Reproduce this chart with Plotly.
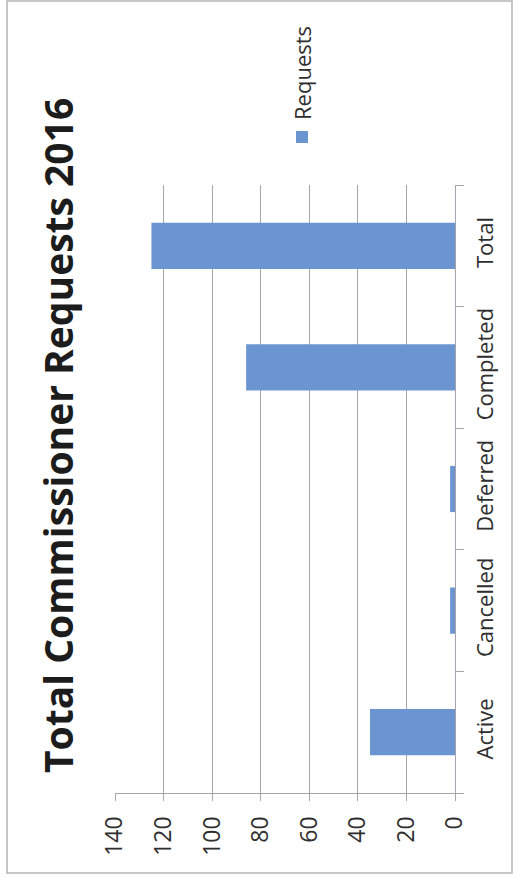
import plotly.graph_objects as go

# Request counts by status
categories = ["Active", "Cancelled", "Deferred", "Completed", "Total"]
requests = [35, 2, 2, 86, 125]
value_ticks = [0, 20, 40, 60, 80, 100, 120, 140]

title_text = "Total Commissioner Requests 2016"
series_name = "Requests"

BAR = "#6b95d1"
GRID = "#a6a3ab"
TXT = "#2e2e2e"
FONT = "Open Sans"

W, H = 514, 877
ML, MR, MT, MB = 115, 59, 185, 84
PW, PH = W - ML - MR, H - MT - MB


def px_x(px):
    return (px - ML) / PW


def px_y(py):
    return (H - MB - py) / PH


fig = go.Figure(
    go.Bar(
        x=requests,
        y=categories,
        orientation="h",
        name=series_name,
        marker=dict(color=BAR, line=dict(width=0)),
        width=0.38,
        showlegend=False,
    )
)

fig.update_layout(
    width=W,
    height=H,
    autosize=False,
    margin=dict(l=ML, r=MR, t=MT, b=MB, pad=0),
    paper_bgcolor="white",
    plot_bgcolor="white",
    font=dict(family=FONT, color=TXT),
    showlegend=False,
    xaxis=dict(
        range=[140, 0],
        tickvals=value_ticks,
        ticktext=[str(v) for v in value_ticks],
        tickangle=-90,
        tickfont=dict(size=23, color=TXT),
        showgrid=True,
        gridcolor=GRID,
        gridwidth=1.3,
        zeroline=False,
        showline=True,
        linecolor=GRID,
        linewidth=1.3,
        ticks="outside",
        ticklen=7,
        tickcolor=GRID,
        tickwidth=1.3,
        ticklabelstandoff=6,
        fixedrange=True,
    ),
    yaxis=dict(
        type="category",
        categoryorder="array",
        categoryarray=categories,
        side="right",
        tickangle=-90,
        tickfont=dict(size=22, color=TXT),
        showgrid=False,
        zeroline=False,
        showline=True,
        linecolor=GRID,
        linewidth=1.3,
        ticks="outside",
        tickson="boundaries",
        ticklen=8,
        tickcolor=GRID,
        tickwidth=1.3,
        ticklabelstandoff=10,
        fixedrange=True,
    ),
)

# Chart title, written vertically along the left edge
fig.add_annotation(
    text="<b>" + title_text + "</b>",
    textangle=-90,
    xref="paper", yref="paper",
    x=px_x(57), y=px_y(436),
    xanchor="center", yanchor="middle",
    showarrow=False,
    font=dict(family=FONT, size=39, color="#1c1c1c"),
)

# Legend: swatch plus series name, rotated
fig.add_shape(
    type="rect", xref="paper", yref="paper",
    x0=px_x(296), x1=px_x(308), y0=px_y(143), y1=px_y(131),
    fillcolor=BAR, line=dict(width=0),
)
fig.add_annotation(
    text=series_name,
    textangle=-90,
    xref="paper", yref="paper",
    x=px_x(302), y=px_y(73),
    xanchor="center", yanchor="middle",
    showarrow=False,
    font=dict(family=FONT, size=22, color=TXT),
)

# Outer chart border
fig.add_shape(
    type="rect", xref="paper", yref="paper",
    x0=px_x(7), x1=px_x(512), y0=px_y(873), y1=px_y(1),
    line=dict(color="#b5b5b5", width=1.5),
    fillcolor="rgba(0,0,0,0)",
    layer="below",
)

fig.write_html("out.html", config=dict(displayModeBar=False))
